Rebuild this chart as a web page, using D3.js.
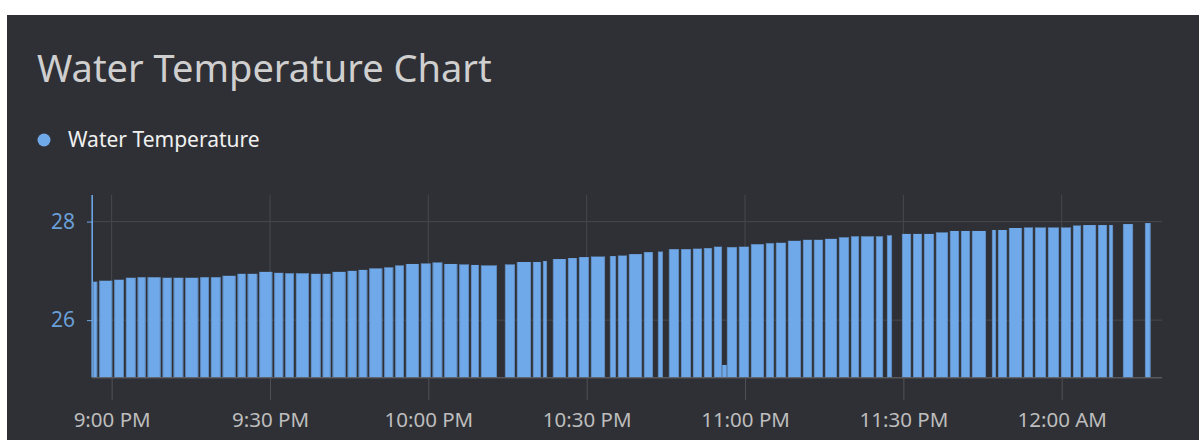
<!DOCTYPE html>
<html>
<head>
<meta charset="utf-8">
<script src="https://cdn.jsdelivr.net/npm/d3@7"></script>
<style>
  html, body { margin: 0; padding: 0; background: #ffffff; }
  svg { display: block; }
</style>
</head>
<body>
<svg id="chart" width="1199" height="440"></svg>
<script>
// ---- Data (minutes after 9:00 PM) ----
const seriesName = "Water Temperature";
const chartTitle = "Water Temperature Chart";

const barStart = [-3.83, -3.54, -2.35, 0.49, 2.71, 4.93, 6.82, 9.66, 11.75, 13.95, 16.79, 18.81, 21.03, 23.87, 25.77,
  27.97, 30.81, 32.89, 34.92, 37.76, 39.98, 41.87, 44.72, 46.80, 48.81, 51.65, 53.73, 55.76, 58.60, 60.82,
  63.02, 65.86, 68.08, 69.97, 74.52, 76.79, 79.82, 81.72, 83.61, 86.46, 88.54, 90.81, 94.41, 95.93, 98.01,
  100.85, 103.51, 105.59, 107.87, 110.14, 112.22, 114.12, 115.63, 116.58, 118.85, 121.13, 123.97, 125.86, 128.14, 130.98,
  133.06, 135.15, 137.80, 140.08, 141.97, 144.81, 146.90, 149.74, 151.83, 153.91, 156.18, 158.83, 160.92, 163.00, 166.79,
  167.93, 170.01, 172.85, 174.94, 177.40, 179.86, 182.14, 184.03, 186.88, 188.96, 191.61, 195.78];

const barEnd = [-3.54, -2.73, 0.11, 2.33, 4.55, 6.44, 9.28, 11.37, 13.57, 16.41, 18.44, 20.65, 23.49, 25.39, 27.59,
  30.43, 32.51, 34.54, 37.38, 39.60, 41.49, 44.34, 46.42, 48.43, 51.27, 53.35, 55.38, 58.22, 60.44, 62.64,
  65.48, 67.70, 69.59, 73.00, 76.41, 79.45, 81.34, 82.48, 86.08, 88.16, 90.43, 93.47, 95.55, 97.63, 100.48,
  102.56, 104.45, 107.49, 109.76, 111.84, 113.74, 115.63, 116.58, 118.48, 120.75, 123.59, 125.49, 127.76, 130.60, 132.69,
  134.77, 137.42, 139.70, 141.59, 144.43, 146.14, 147.84, 151.45, 153.53, 155.80, 158.45, 160.54, 162.62, 165.65, 167.55,
  169.63, 172.47, 174.56, 177.02, 179.48, 181.76, 183.65, 186.50, 188.58, 189.72, 193.51, 196.82];

const barValue = [28.54, 26.78, 26.80, 26.82, 26.86, 26.87, 26.87, 26.86, 26.86, 26.86, 26.87, 26.87, 26.90, 26.94, 26.94,
  26.98, 26.96, 26.95, 26.95, 26.94, 26.94, 26.98, 27.00, 27.02, 27.05, 27.07, 27.11, 27.14, 27.15, 27.17,
  27.14, 27.13, 27.12, 27.11, 27.13, 27.18, 27.18, 27.20, 27.24, 27.26, 27.28, 27.29, 27.30, 27.31, 27.34,
  27.38, 27.39, 27.44, 27.44, 27.45, 27.46, 27.49, 25.09, 27.48, 27.49, 27.54, 27.56, 27.57, 27.61, 27.63,
  27.63, 27.65, 27.68, 27.70, 27.70, 27.70, 27.72, 27.75, 27.75, 27.75, 27.78, 27.81, 27.81, 27.81, 27.83,
  27.83, 27.87, 27.88, 27.88, 27.88, 27.88, 27.92, 27.93, 27.93, 27.93, 27.95, 27.97];

const yTicks = [26, 28];
const xTickMinutes = [0, 30, 60, 90, 120, 150, 180];
const xTickLabels = ["9:00 PM", "9:30 PM", "10:00 PM", "10:30 PM", "11:00 PM", "11:30 PM", "12:00 AM"];

// ---- Layout ----
const W = 1199, H = 440;
const plot = { left: 92, right: 1162, top: 195, bottom: 377.3 };
const base = new Date(2024, 0, 1, 21, 0, 0);
const toDate = m => new Date(base.getTime() + m * 60000);

const svg = d3.select("#chart");
const blue = "#70a9e9";
const edge = "#5b82b0";

// card
svg.append("rect").attr("x", 7).attr("y", 15).attr("width", W - 7).attr("height", H - 15).attr("fill", "#2f3035");

// title
svg.append("text").attr("x", 37).attr("y", 82)
  .attr("font-family", "'Noto Sans', sans-serif").attr("font-size", 38)
  .attr("fill", "#cfcfcf").text(chartTitle);

// legend
svg.append("circle").attr("cx", 44).attr("cy", 140).attr("r", 6.5).attr("fill", blue);
svg.append("text").attr("x", 68).attr("y", 147)
  .attr("font-family", "'Noto Sans', sans-serif").attr("font-size", 21)
  .attr("fill", "#f0f0f0").text(seriesName);

// scales
const x = d3.scaleTime().domain([toDate(-3.72), toDate(199.0)]).range([plot.left, plot.right]);
const y = d3.scaleLinear().domain([24.84, 28.54]).range([plot.bottom, plot.top]);

const grid = "#47484d";
// horizontal grid
svg.append("g").selectAll("line").data(yTicks).join("line")
  .attr("x1", plot.left).attr("x2", plot.right)
  .attr("y1", d => y(d)).attr("y2", d => y(d))
  .attr("stroke", grid).attr("stroke-width", 1);
// vertical grid
svg.append("g").selectAll("line").data(xTickMinutes).join("line")
  .attr("x1", d => x(toDate(d))).attr("x2", d => x(toDate(d)))
  .attr("y1", plot.top).attr("y2", plot.bottom)
  .attr("stroke", grid).attr("stroke-width", 1);

// bars
const bars = barValue.map((v, i) => ({ s: toDate(barStart[i]), e: toDate(barEnd[i]), v }));
const gb = svg.append("g");
gb.selectAll("rect").data(bars).join("rect")
  .attr("x", d => x(d.s))
  .attr("width", d => Math.max(0.5, x(d.e) - x(d.s)))
  .attr("y", d => y(d.v))
  .attr("height", d => plot.bottom - y(d.v))
  .attr("fill", blue);
// soft edges at the breaks between readings
const edges = bars.slice(1).flatMap(d => [
  { xp: x(d.s) + 0.4, v: d.v },
  { xp: x(d.e) - 0.4, v: d.v }
]);
gb.selectAll("line.edge").data(edges).join("line")
  .attr("class", "edge")
  .attr("x1", d => d.xp).attr("x2", d => d.xp)
  .attr("y1", d => y(d.v)).attr("y2", plot.bottom)
  .attr("stroke", edge).attr("stroke-width", 0.8);

// x axis
const xAxis = d3.axisBottom(x)
  .tickValues(xTickMinutes.map(toDate))
  .tickFormat((d, i) => xTickLabels[i])
  .tickSize(23).tickPadding(12);
const gx = svg.append("g").attr("transform", `translate(0,${plot.bottom})`).call(xAxis);
gx.select(".domain").attr("stroke", "#6b6c70").attr("d", `M${plot.left},0.5H${plot.right}`);
gx.selectAll(".tick line").attr("stroke", "#505156");
gx.selectAll(".tick text").attr("fill", "#bdbdbd")
  .attr("font-family", "'Noto Sans', sans-serif").attr("font-size", 20.5);

// y axis
const yAxis = d3.axisLeft(y).tickValues(yTicks).tickFormat(d3.format("d")).tickSize(5).tickPadding(12);
const gy = svg.append("g").attr("transform", `translate(${plot.left},0)`).call(yAxis);
gy.select(".domain").remove();
gy.selectAll(".tick line").attr("stroke", blue);
gy.selectAll(".tick text").attr("fill", "#6a9fd8")
  .attr("font-family", "'Noto Sans', sans-serif").attr("font-size", 21);
</script>
</body>
</html>
